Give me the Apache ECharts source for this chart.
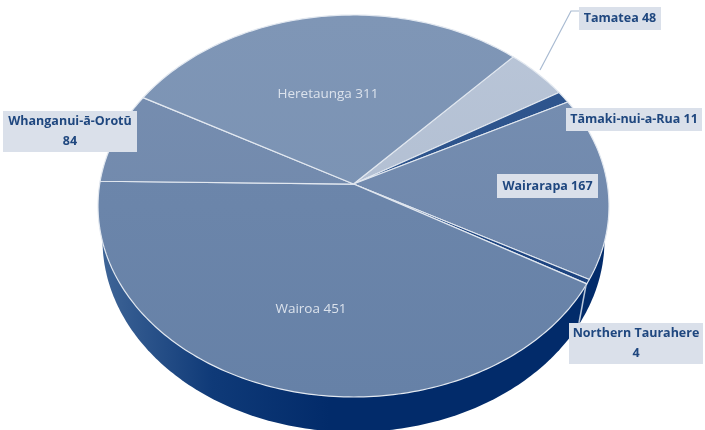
<!DOCTYPE html>
<html>
<head>
<meta charset="utf-8">
<title>Pie</title>
<style>
html, body { margin: 0; padding: 0; background: #fff; }
#chart { width: 705px; height: 430px; }
</style>
<script src="https://cdn.jsdelivr.net/npm/echarts@6/dist/echarts.min.js"></script>
</head>
<body>
<div id="chart"></div>
<script>
// clockwise from the Heretaunga / Tamatea boundary
var names = ["Tamatea", "Tāmaki-nui-a-Rua", "Wairarapa", "Northern Taurahere", "Wairoa", "Whanganui-ā-Orotū", "Heretaunga"];
var values = [48, 11, 167, 4, 451, 84, 311];

var sliceColors = [
    ["#bac6d8", "#aab8cd"],
    ["#2f568f", "#2a5088"],
    ["#7890b2", "#6a83a9"],
    ["#1d4480", "#1d4480"],
    ["#7089ad", "#6681a7"],
    ["#788fb1", "#6c85a9"],
    ["#7f96b6", "#7790b2"]
];

// label boxes: x, y, w, h
var boxes = [
    { i: 0, x: 579, y: 7, w: 82, h: 23, lines: 1 },
    { i: 1, x: 566, y: 108, w: 136, h: 23, lines: 1 },
    { i: 2, x: 497, y: 174, w: 101, h: 24, lines: 1 },
    { i: 3, x: 569, y: 323, w: 134, h: 41, lines: 2 },
    { i: 5, x: 3, y: 111, w: 134, h: 41, lines: 2 }
];
var plainLabels = [
    { i: 6, x: 328, y: 94 },
    { i: 4, x: 311, y: 309 }
];

var FONT = '"Open Sans", "Noto Sans", sans-serif';
var cx = 353.5, cy = 206, rx = 255.5, ry = 191;
var persp = 0.115; // perspective shift of the apex towards the back
var startAngle = 43;
var total = values.reduce(function(a, b) { return a + b; }, 0);

function project(deg) {
    var t = deg * Math.PI / 180, s = Math.sin(t), c = Math.cos(t), d = 1 + persp * c;
    return [ cx + rx * s * Math.sqrt(1 - persp * persp) / d, cy - ry * (c + persp) / d ];
}

function renderSlice(params, api) {
    var before = 0;
    for (var k = 0; k < params.dataIndex; k++) before += values[k];
    var a0 = startAngle + before / total * 360, a1 = a0 + api.value(0) / total * 360;
    var pts = [ [ cx, cy - ry * persp ] ];
    for (var a = a0; a < a1; a += 1) pts.push(project(a));
    pts.push(project(a1));
    var col = sliceColors[params.dataIndex];
    return {
        type: "polygon",
        shape: { points: pts },
        style: {
            fill: { type: "linear", global: true, x: 0, y: 15, x2: 0, y2: 397, colorStops: [ { offset: 0, color: col[0] }, { offset: 1, color: col[1] } ] },
            stroke: "#e2e8f0",
            lineWidth: 1.2,
            lineJoin: "round"
        }
    };
}

function renderWall() {
    var pts = [], wx = 251, wy = 240, wr = 192;
    for (var a = 0; a < 360; a += 1) {
        var t = a * Math.PI / 180;
        pts.push([ cx + wx * Math.sin(t), wy - wr * Math.cos(t) ]);
    }
    return {
        type: "polygon",
        shape: { points: pts },
        style: {
            fill: { type: "linear", global: true, x: 100, y: 0, x2: 610, y2: 0, colorStops: [
                { offset: 0, color: "#3f6597" }, { offset: 0.22, color: "#0f3a78" }, { offset: 0.45, color: "#022b6a" },
                { offset: 1, color: "#022b6a" } ] }
        }
    };
}

var graphics = [
    { type: "polyline", z: 20, shape: { points: [ [ 540, 70 ], [ 571, 11 ], [ 579, 11 ] ] }, style: { stroke: "#a9bbd2", lineWidth: 1.2, fill: null } },
    { type: "polyline", z: 20, shape: { points: [ [ 586, 285 ], [ 579, 323 ] ] }, style: { stroke: "#b9c7da", lineWidth: 1.5, fill: null } }
];
boxes.forEach(function(b) {
    var txt = names[b.i] + (b.lines == 2 ? "\n" : " ") + values[b.i];
    graphics.push({ type: "rect", z: 21, shape: { x: b.x, y: b.y, width: b.w, height: b.h }, style: { fill: "#dae0ea" } });
    graphics.push({
        type: "text", z: 22, x: b.x + b.w / 2, y: b.y + b.h / 2,
        style: { text: txt, fill: "#1f477f", font: "bold 12.5px " + FONT, lineHeight: 20, align: "center", verticalAlign: "middle" }
    });
});
plainLabels.forEach(function(l) {
    graphics.push({
        type: "text", z: 22, x: l.x, y: l.y,
        style: { text: names[l.i] + " " + values[l.i], fill: "#dbe2ec", font: "13.5px " + FONT, align: "center", verticalAlign: "middle" }
    });
});

var chart = echarts.init(document.getElementById("chart"), null, { renderer: "canvas" });
chart.setOption({
    animation: false,
    backgroundColor: "#fff",
    series: [
        { type: "custom", coordinateSystem: "none", z: 1, silent: true, data: [ 1 ], renderItem: renderWall },
        { type: "custom", coordinateSystem: "none", z: 2, silent: true, data: values, renderItem: renderSlice }
    ],
    graphic: graphics
});
</script>
</body>
</html>
